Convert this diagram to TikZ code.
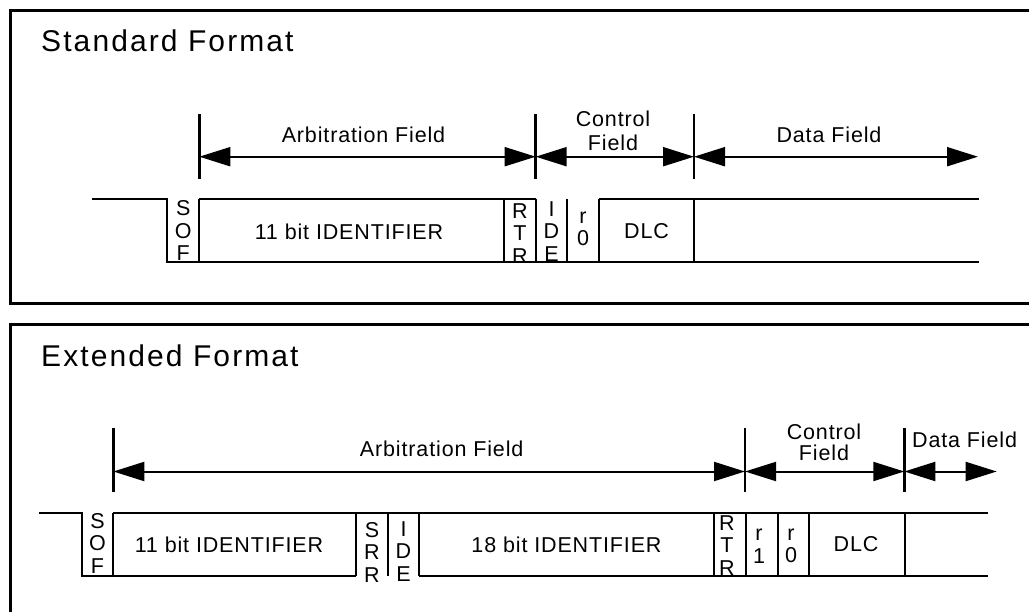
\documentclass[tikz,border=0pt]{standalone}
\usepackage{fontspec}
\setmainfont{Liberation Sans}[LetterSpace=4]
\newfontfamily\titlefont{Liberation Sans}[LetterSpace=7]
\usetikzlibrary{arrows.meta}

\tikzset{
  frame/.style={line width=3pt},
  wire/.style={line width=2pt},
  tick/.style={line width=2.5pt},
  span/.style={line width=2pt, {Triangle[length=31pt,width=19pt]}-{Triangle[length=31pt,width=19pt]}},
  title/.style={font=\titlefont\fontsize{30}{33}\selectfont, anchor=base west, inner sep=0pt},
  lbl/.style={font=\fontsize{21.5}{22.5}\selectfont, inner sep=0pt},
  stack/.style={lbl, align=center},
}

\begin{document}
\begin{tikzpicture}[x=1pt, y=-1pt]
        \useasboundingbox (0,0) rectangle (1029,612);

        % Standard format frame
        \draw[frame] (1040,11) -- (10.5,11) -- (10.5,303.5) -- (1040,303.5);
        \node[title] (stdtitle) at (41,51.7) {Standard Format};

        % Field boundaries
        \coordinate (sA) at (199.3,156.7);
        \coordinate (sC) at (535.7,156.7);
        \coordinate (sD) at (694,156.7);
        \coordinate (sE) at (978,156.7);
        \draw[tick] (199.3,114) -- (199.3,179);
        \draw[tick] (535.7,114) -- (535.7,179);
        \draw[tick] (694,114) -- (694,179);

        % Field spans
        \draw[span] (sA) -- (sC);
        \draw[span] (sC) -- (sD);
        \draw[span] (sD) -- (sE);
        \node[lbl] (sarb) at (363.5,135) {Arbitration Field};
        \node[stack, font=\fontsize{21.5}{23.5}\selectfont] (sctl) at (613,131) {Control\\Field};
        \node[lbl] (sdata) at (829,135) {Data Field};

        % Bit stream
        \draw[wire] (92,199) -- (167,199) -- (167,262) -- (979,262);
        \draw[wire] (199.3,199) -- (535.7,199);
        \draw[wire] (599,199) -- (979,199);
        \foreach \x in {199.3,504.3,535.7,567.3,599,694}
          \draw[wire] (\x,199) -- (\x,262);

        % Bit labels
        \node[stack] (ssof) at (183.3,230.8) {S\\O\\F};
        \node[lbl] (sid) at (349,231.5) {11 bit IDENTIFIER};
        \begin{scope}
          \clip (504.3,195) rectangle (535.7,261);
          \node[stack] (srtr) at (520,233.5) {R\\T\\R};
        \end{scope}
        \begin{scope}
          \clip (535.7,195) rectangle (567.3,261);
          \node[stack] (side) at (551.5,231.5) {I\\D\\E};
        \end{scope}
        \node[stack] (sr0) at (583,229) {r\\0};
        \node[lbl] (sdlc) at (646.5,231) {DLC};

        % Extended format frame
        \draw[frame] (1040,324.5) -- (10.5,324.5) -- (10.5,620);
        \node[title] (exttitle) at (41,366.7) {Extended Format};

        % Field boundaries
        \coordinate (eA) at (113.3,471.5);
        \coordinate (eC) at (745,471.5);
        \coordinate (eD) at (904.3,471.5);
        \coordinate (eE) at (996.7,471.5);
        \draw[tick] (113.3,428) -- (113.3,492);
        \draw[tick] (745,428) -- (745,492);
        \draw[tick] (904.3,428) -- (904.3,492);

        % Field spans
        \draw[span] (eA) -- (eC);
        \draw[span] (eC) -- (eD);
        \draw[span] (eD) -- (eE);
        \node[lbl] (earb) at (441.7,449.3) {Arbitration Field};
        \node[stack, font=\fontsize{21.5}{21.6}\selectfont] (ectl) at (824,442.5) {Control\\Field};
        \node[lbl] (edata) at (964.6,440) {Data Field};

        % Bit stream
        \draw[wire] (39,512.7) -- (81.7,512.7) -- (81.7,576) -- (356,576);
        \draw[wire] (113.3,512.7) -- (988,512.7);
        \draw[wire] (419,576) -- (988,576);
        \foreach \x in {113.3,356,388.3,419,714,745.7,777.7,809.3,905}
          \draw[wire] (\x,512.7) -- (\x,576);

        % Bit labels
        \node[stack] (esof) at (97.5,543) {S\\O\\F};
        \node[lbl] (eid) at (229,545) {11 bit IDENTIFIER};
        \node[stack] (esrr) at (372,552) {S\\R\\R};
        \node[stack] (eide) at (403.5,551.5) {I\\D\\E};
        \node[lbl] (eidx) at (566.5,545) {18 bit IDENTIFIER};
        \begin{scope}
          \clip (714,508) rectangle (745.7,575);
          \node[stack] (ertr) at (727,545.5) {R\\T\\R};
        \end{scope}
        \node[stack] (er1) at (759,546) {r\\1};
        \node[stack] (er0) at (791,546) {r\\0};
        \node[lbl] (edlc) at (856,544) {DLC};
\end{tikzpicture}
\end{document}
